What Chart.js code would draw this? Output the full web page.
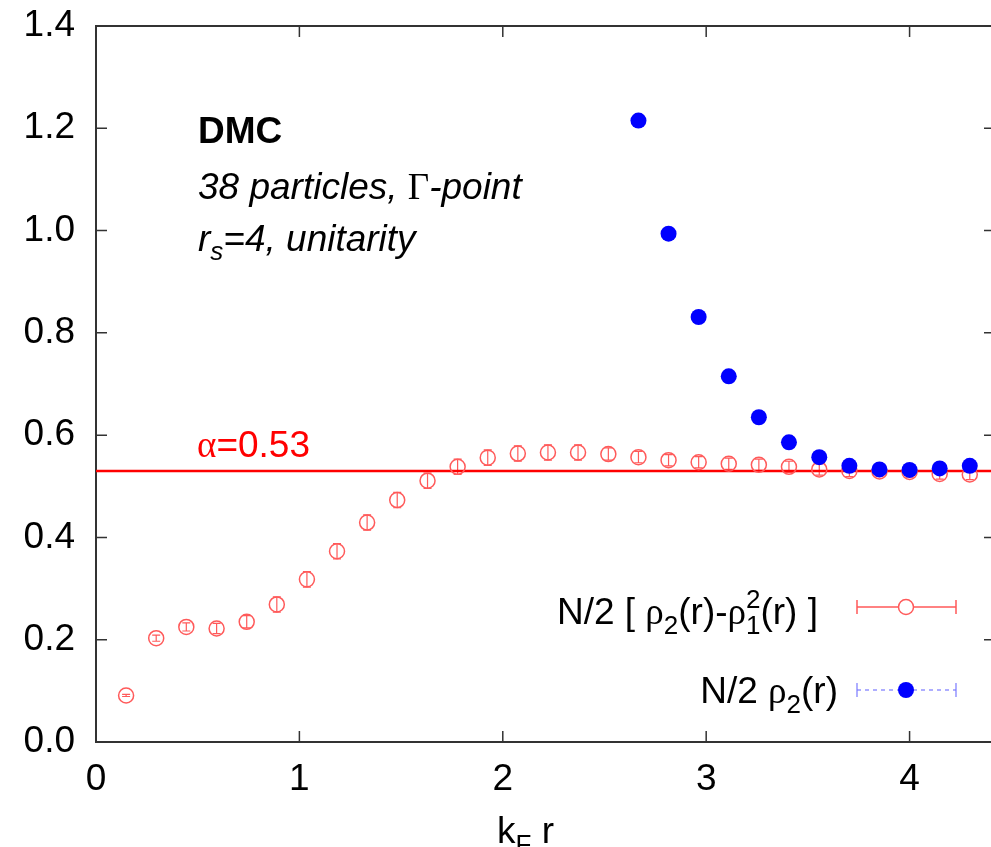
<!DOCTYPE html>
<html>
<head>
<meta charset="utf-8">
<script src="https://cdn.jsdelivr.net/npm/chart.js@4.4.0/dist/chart.umd.min.js"></script>
<style>
  html, body { margin: 0; padding: 0; background: #fff; overflow: hidden; }
  #wrap { width: 1004px; height: 847px; }
</style>
</head>
<body>
<div id="wrap"><canvas id="chart" width="1004" height="847"></canvas></div>
<script>
// k_F r positions of the samples
const kfr = [0.148, 0.296, 0.444, 0.593, 0.741, 0.889, 1.037, 1.185, 1.333, 1.481,
             1.630, 1.778, 1.926, 2.074, 2.222, 2.370, 2.519, 2.667, 2.815, 2.963,
             3.111, 3.259, 3.407, 3.556, 3.704, 3.852, 4.000, 4.148, 4.296];

// N/2 [ rho2(r) - rho1^2(r) ]  (open red circles)
const connected = [0.091, 0.203, 0.225, 0.222, 0.235, 0.269, 0.318, 0.373, 0.429, 0.473,
                   0.511, 0.538, 0.556, 0.564, 0.566, 0.566, 0.563, 0.557, 0.551, 0.547,
                   0.544, 0.542, 0.538, 0.533, 0.530, 0.529, 0.528, 0.524, 0.523];
const connectedErr = [0.002, 0.006, 0.008, 0.010, 0.012, 0.015, 0.015, 0.015, 0.015, 0.015,
                      0.015, 0.015, 0.015, 0.015, 0.015, 0.015, 0.012, 0.011, 0.011, 0.011,
                      0.011, 0.011, 0.011, 0.011, 0.011, 0.010, 0.010, 0.010, 0.010];

// N/2 rho2(r)  (filled blue circles), from k_F r = 2.667 on
const rho2X = [2.667, 2.815, 2.963, 3.111, 3.259, 3.407, 3.556, 3.704, 3.852, 4.000, 4.148, 4.296];
const rho2  = [1.215, 0.994, 0.831, 0.715, 0.635, 0.586, 0.557, 0.540, 0.533, 0.532, 0.535, 0.540];

const alpha = 0.53;
const xRange = [0, 4.42];
const xTicks = [0, 1, 2, 3, 4];
const yTicks = [0, 0.2, 0.4, 0.6, 0.8, 1.0, 1.2, 1.4];

const SANS = '"Liberation Sans", Arial, Helvetica, sans-serif';
const SERIF = '"Liberation Serif", "Times New Roman", serif';
const FS = 37;
const SUB = 26;
const RED_PT = '#ff5a5a';

// draws a row of text pieces (sub/superscripts, mixed fonts)
function drawRuns(ctx, x, y, runs, align, color) {
    let total = 0;
    runs.forEach(r => {
        ctx.font = r.f;
        r.w = ctx.measureText(r.t).width;
        if (r.adv !== false) total += r.w;
    });
    let cx = align === 'right' ? x - total : (align === 'center' ? x - total / 2 : x);
    ctx.fillStyle = color || '#000';
    ctx.textAlign = 'left';
    ctx.textBaseline = 'alphabetic';
    runs.forEach(r => {
        ctx.font = r.f;
        ctx.fillText(r.t, cx, y + (r.dy || 0));
        if (r.adv !== false) cx += r.w;
    });
}

const framePlugin = {
    id: 'frame',
    beforeDatasetsDraw(chart) {
        const { ctx, chartArea: a, scales: { x, y } } = chart;
        ctx.save();
        ctx.strokeStyle = '#333';
        ctx.lineWidth = 2;
        ctx.strokeRect(a.left, a.top, a.right - a.left, a.bottom - a.top);
        ctx.lineWidth = 1.5;
        ctx.beginPath();
        xTicks.forEach(v => {
            const px = x.getPixelForValue(v);
            ctx.moveTo(px, a.bottom); ctx.lineTo(px, a.bottom - 11);
            ctx.moveTo(px, a.top); ctx.lineTo(px, a.top + 11);
        });
        yTicks.forEach(v => {
            const py = y.getPixelForValue(v);
            ctx.moveTo(a.left, py); ctx.lineTo(a.left + 11, py);
            ctx.moveTo(a.right, py); ctx.lineTo(a.right - 11, py);
        });
        ctx.stroke();

        // error bars for the connected correlation (under the markers)
        ctx.strokeStyle = RED_PT;
        ctx.lineWidth = 1.2;
        ctx.beginPath();
        kfr.forEach((v, i) => {
            const px = x.getPixelForValue(v);
            const lo = y.getPixelForValue(connected[i] - connectedErr[i]);
            const hi = y.getPixelForValue(connected[i] + connectedErr[i]);
            ctx.moveTo(px, lo); ctx.lineTo(px, hi);
            ctx.moveTo(px - 4, lo); ctx.lineTo(px + 4, lo);
            ctx.moveTo(px - 4, hi); ctx.lineTo(px + 4, hi);
        });
        ctx.stroke();
        ctx.restore();
    },
    afterDraw(chart) {
        const { ctx } = chart;
        const main = `${FS}px ${SANS}`;
        const small = `${SUB}px ${SANS}`;
        const greek = `${FS}px ${SERIF}`;
        const ital = `italic ${FS}px ${SANS}`;
        const italSmall = `italic ${SUB}px ${SANS}`;
        ctx.save();

        // annotation block
        drawRuns(ctx, 198, 143, [{ t: 'DMC', f: `bold ${FS}px ${SANS}` }]);
        drawRuns(ctx, 198, 199, [
            { t: '38 particles, ', f: ital },
            { t: 'Γ', f: greek },
            { t: '-point', f: ital }
        ]);
        drawRuns(ctx, 198, 251, [
            { t: 'r', f: ital },
            { t: 's', f: italSmall, dy: 9 },
            { t: '=4, unitarity', f: ital }
        ]);
        drawRuns(ctx, 197, 457, [
            { t: 'α', f: greek },
            { t: '=0.53', f: main }
        ], 'left', '#ff0000');

        // legend
        drawRuns(ctx, 818, 624, [
            { t: 'N/2 [ ', f: main },
            { t: 'ρ', f: greek },
            { t: '2', f: small, dy: 10 },
            { t: '(r)-', f: main },
            { t: 'ρ', f: greek },
            { t: '2', f: small, dy: -16, adv: false },
            { t: '1', f: small, dy: 10 },
            { t: '(r) ]', f: main }
        ], 'right');
        drawRuns(ctx, 838, 703, [
            { t: 'N/2 ', f: main },
            { t: 'ρ', f: greek },
            { t: '2', f: small, dy: 10 },
            { t: '(r)', f: main }
        ], 'right');

        // legend samples
        ctx.strokeStyle = RED_PT;
        ctx.lineWidth = 1.5;
        ctx.beginPath();
        ctx.moveTo(857, 607); ctx.lineTo(956, 607);
        ctx.moveTo(857, 600); ctx.lineTo(857, 614);
        ctx.moveTo(956, 600); ctx.lineTo(956, 614);
        ctx.stroke();
        ctx.fillStyle = '#fff';
        ctx.beginPath(); ctx.arc(906, 607, 7.5, 0, Math.PI * 2); ctx.fill(); ctx.stroke();

        ctx.strokeStyle = '#7a7aff';
        ctx.lineWidth = 1.2;
        ctx.setLineDash([4, 4]);
        ctx.beginPath();
        ctx.moveTo(857, 690); ctx.lineTo(956, 690);
        ctx.stroke();
        ctx.setLineDash([]);
        ctx.beginPath();
        ctx.moveTo(857, 683); ctx.lineTo(857, 697);
        ctx.moveTo(956, 683); ctx.lineTo(956, 697);
        ctx.stroke();
        ctx.fillStyle = '#0000ff';
        ctx.beginPath(); ctx.arc(906, 690, 8, 0, Math.PI * 2); ctx.fill();

        // x axis title
        drawRuns(ctx, 497, 843, [
            { t: 'k', f: main },
            { t: 'F', f: small, dy: 10 },
            { t: ' r', f: main }
        ]);
        ctx.restore();
    }
};

const ctx = document.getElementById('chart').getContext('2d');
new Chart(ctx, {
    type: 'scatter',
    data: {
        datasets: [
            {
                label: 'N/2 rho2(r)',
                data: rho2X.map((v, i) => ({ x: v, y: rho2[i] })),
                pointRadius: 8,
                pointBackgroundColor: '#0000ff',
                pointBorderColor: '#0000ff',
                pointBorderWidth: 0,
                showLine: false
            },
            {
                label: 'N/2 [rho2(r)-rho1^2(r)]',
                data: kfr.map((v, i) => ({ x: v, y: connected[i] })),
                pointRadius: 7.5,
                pointBackgroundColor: 'rgba(255,255,255,0)',
                pointBorderColor: RED_PT,
                pointBorderWidth: 1.5,
                showLine: false
            },
            {
                label: 'alpha',
                data: xRange.map(v => ({ x: v, y: alpha })),
                showLine: true,
                borderColor: '#ff0000',
                borderWidth: 2.5,
                pointRadius: 0
            }
        ]
    },
    options: {
        responsive: false,
        animation: false,
        events: [],
        layout: { padding: { top: 26, right: 0, left: 0, bottom: 0 } },
        plugins: {
            legend: { display: false },
            tooltip: { enabled: false }
        },
        scales: {
            x: {
                type: 'linear',
                min: xRange[0],
                max: xRange[1],
                grid: { display: false, drawTicks: false },
                border: { display: false },
                afterBuildTicks: s => { s.ticks = xTicks.map(v => ({ value: v })); },
                afterFit: s => { s.height = 105; s.paddingLeft = 0; s.paddingRight = 0; },
                ticks: {
                    color: '#000',
                    font: { family: SANS, size: FS },
                    padding: 16,
                    maxRotation: 0,
                    autoSkip: false
                }
            },
            y: {
                min: 0,
                max: 1.4,
                grid: { display: false, drawTicks: false },
                border: { display: false },
                afterBuildTicks: s => { s.ticks = yTicks.map(v => ({ value: v })); },
                afterFit: s => { s.width = 96; s.paddingTop = 0; s.paddingBottom = 0; },
                ticks: {
                    color: '#000',
                    font: { family: SANS, size: FS },
                    padding: 21,
                    callback: v => v.toFixed(1)
                }
            }
        }
    },
    plugins: [framePlugin]
});
</script>
</body>
</html>
